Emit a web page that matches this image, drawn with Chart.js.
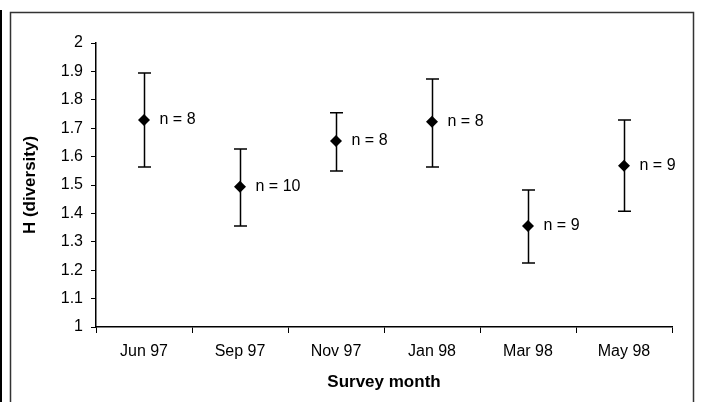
<!DOCTYPE html>
<html>
<head>
<meta charset="utf-8">
<title>H (diversity) by survey month</title>
<script src="https://cdn.jsdelivr.net/npm/chart.js@4"></script>
<style>
    html, body { margin: 0; padding: 0; background: #fff; }
    #wrap { width: 702px; height: 402px; position: relative; }
</style>
</head>
<body>
<div id="wrap"><canvas id="diversityChart"></canvas></div>
<script>
// Survey data
const months = ['Jun 97', 'Sep 97', 'Nov 97', 'Jan 98', 'Mar 98', 'May 98'];
const meanH = [1.729, 1.494, 1.655, 1.723, 1.356, 1.568];
const upperH = [1.894, 1.627, 1.754, 1.873, 1.482, 1.729];
const lowerH = [1.563, 1.356, 1.549, 1.563, 1.225, 1.408];
const sampleN = [8, 10, 8, 8, 9, 9];
const yMin = 1;
const yMax = 2;
const yStep = 0.1;

const FONT = "'Liberation Sans', Arial, sans-serif";

// Border round the figure, like the pasted Excel chart
const framePlugin = {
    id: 'frame',
    beforeDraw(chart) {
        const ctx = chart.ctx;
        ctx.save();
        ctx.fillStyle = '#fff';
        ctx.fillRect(0, 0, chart.width, chart.height);
        ctx.strokeStyle = '#000';
        ctx.lineWidth = 2;
        ctx.beginPath();
        ctx.moveTo(1, 10);
        ctx.lineTo(1, chart.height);
        ctx.stroke();
        ctx.strokeStyle = '#333';
        ctx.lineWidth = 1.5;
        ctx.beginPath();
        ctx.moveTo(10.5, chart.height);
        ctx.lineTo(10.5, 12.5);
        ctx.lineTo(693.5, 12.5);
        ctx.lineTo(693.5, chart.height);
        ctx.stroke();
        ctx.restore();
    }
};

// Error bars and "n = x" labels, placed with the chart's own scales
const errorBarPlugin = {
    id: 'errorBars',
    afterDatasetsDraw(chart) {
        const ctx = chart.ctx;
        const x = chart.scales.x;
        const y = chart.scales.y;
        ctx.save();
        ctx.strokeStyle = '#000';
        ctx.lineWidth = 1.5;
        months.forEach((m, i) => {
            const px = Math.round(x.getPixelForValue(i)) + 0.5;
            const top = y.getPixelForValue(upperH[i]);
            const bot = y.getPixelForValue(lowerH[i]);
            ctx.beginPath();
            ctx.moveTo(px, top);
            ctx.lineTo(px, bot);
            ctx.moveTo(px - 6.5, top);
            ctx.lineTo(px + 6.5, top);
            ctx.moveTo(px - 6.5, bot);
            ctx.lineTo(px + 6.5, bot);
            ctx.stroke();

            ctx.fillStyle = '#000';
            ctx.font = '16px ' + FONT;
            ctx.textBaseline = 'middle';
            ctx.textAlign = 'left';
            ctx.fillText('n = ' + sampleN[i], px + 15, y.getPixelForValue(meanH[i]));
        });
        ctx.restore();
    }
};

document.addEventListener('DOMContentLoaded', function () {
    const ctx = document.getElementById('diversityChart').getContext('2d');

    new Chart(ctx, {
        type: 'line',
        data: {
            labels: months,
            datasets: [{
                label: 'H (diversity)',
                data: meanH,
                showLine: false,
                pointStyle: 'rectRot',
                pointRadius: 6,
                pointHoverRadius: 6,
                backgroundColor: '#000',
                borderColor: '#000',
                pointBorderWidth: 0
            }]
        },
        options: {
            responsive: true,
            maintainAspectRatio: false,
            animation: false,
            layout: {
                padding: { left: 0, right: 30, top: 43, bottom: 0 }
            },
            scales: {
                x: {
                    offset: true,
                    afterFit: (scale) => { scale.height = 75; },
                    grid: {
                        offset: true,
                        drawOnChartArea: false,
                        drawTicks: true,
                        tickLength: 6,
                        color: '#000'
                    },
                    border: { display: true, color: '#000', width: 1.5 },
                    ticks: {
                        color: '#000',
                        padding: 9,
                        maxRotation: 0,
                        font: { family: FONT, size: 16 }
                    },
                    title: {
                        display: true,
                        text: 'Survey month',
                        color: '#000',
                        padding: { top: 0, bottom: 9 },
                        font: { family: FONT, size: 17, weight: 'bold' }
                    }
                },
                y: {
                    min: yMin,
                    max: yMax,
                    afterFit: (scale) => { scale.width = 96; },
                    grid: {
                        drawOnChartArea: false,
                        drawTicks: true,
                        tickLength: 5,
                        color: '#000'
                    },
                    border: { display: true, color: '#000', width: 1.5 },
                    ticks: {
                        stepSize: yStep,
                        color: '#000',
                        padding: 8,
                        font: { family: FONT, size: 16 },
                        callback: (v) => String(Number(v.toFixed(1)))
                    },
                    title: {
                        display: true,
                        text: 'H (diversity)',
                        color: '#000',
                        padding: { top: 20, bottom: 0 },
                        font: { family: FONT, size: 17, weight: 'bold' }
                    }
                }
            },
            plugins: {
                legend: { display: false },
                tooltip: { enabled: false }
            }
        },
        plugins: [framePlugin, errorBarPlugin]
    });
});
</script>
</body>
</html>
